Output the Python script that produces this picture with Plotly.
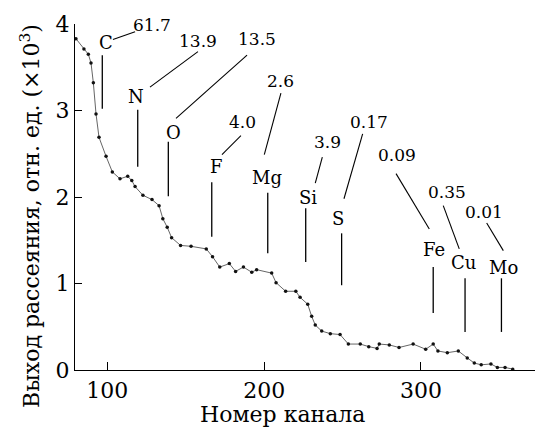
import plotly.graph_objects as go

# ---- data ----
channels = [80.0, 85.1, 87.9, 89.6, 91.1, 92.8, 94.7, 99.2, 103.2, 108.1,
            113.0, 115.6, 117.7, 122.7, 128.5, 133.0, 135.4, 138.2, 141.0, 146.7,
            153.4, 163.1, 167.1, 171.7, 177.8, 181.8, 186.8, 192.1, 195.2, 204.8,
            207.6, 213.7, 220.2, 222.9, 227.8, 230.3, 232.6, 236.7, 242.2, 248.4,
            253.7, 261.3, 266.7, 272.0, 273.4, 279.8, 286.0, 295.0, 303.0, 307.8,
            310.8, 316.8, 323.8, 329.5, 334.0, 338.4, 344.6, 348.7, 353.6, 358.5]
yield_vals = [3.83, 3.71, 3.65, 3.55, 3.32, 2.96, 2.69, 2.47, 2.29, 2.21,
              2.24, 2.19, 2.12, 2.02, 1.97, 1.90, 1.75, 1.65, 1.53, 1.44,
              1.43, 1.40, 1.31, 1.19, 1.23, 1.14, 1.19, 1.13, 1.16, 1.12,
              1.01, 0.91, 0.91, 0.84, 0.76, 0.62, 0.52, 0.45, 0.42, 0.41,
              0.30, 0.30, 0.27, 0.25, 0.30, 0.29, 0.26, 0.30, 0.24, 0.30,
              0.22, 0.20, 0.22, 0.14, 0.08, 0.06, 0.07, 0.03, 0.03, 0.01]

elements = ["C", "N", "O", "F", "Mg", "Si", "S", "Fe", "Cu", "Mo"]
concentrations = ["61.7", "13.9", "13.5", "4.0", "2.6", "3.9", "0.17", "0.09", "0.35", "0.01"]
element_channels = [96.8, 119.4, 138.9, 166.6, 202.3, 226.5, 249.4, 307.8, 328.1, 351.3]

x_ticks = [100, 200, 300]
y_ticks = [0, 1, 2, 3, 4]

x_title = "Номер канала"
y_title = "Выход рассеяния, отн. ед. (×10<sup>3</sup>)"

# ---- annotation layout (positions in axis units) ----
# label (x, y), marker line (y_top, y_bottom), leader (x0, y0, x1, y1), value text (x, y)
label_layout = [
    dict(lab=(99.2, 3.79), vl=(3.64, 3.02), ld=(103.6, 3.82, 117.7, 3.91), val=(128.6, 3.99)),
    dict(lab=(118.3, 3.16), vl=(3.01, 2.35), ld=(127.2, 3.27, 157.8, 3.68), val=(158.0, 3.80)),
    dict(lab=(141.9, 2.74), vl=(2.64, 2.01), ld=(143.8, 2.91, 189.1, 3.64), val=(195.4, 3.83)),
    dict(lab=(169.3, 2.35), vl=(2.17, 1.54), ld=(173.1, 2.49, 185.2, 2.71), val=(186.5, 2.87)),
    dict(lab=(201.8, 2.22), vl=(2.05, 1.35), ld=(200.1, 2.49, 210.7, 3.20), val=(210.7, 3.34)),
    dict(lab=(227.8, 2.00), vl=(1.87, 1.25), ld=(232.6, 2.16, 237.1, 2.46), val=(240.1, 2.64)),
    dict(lab=(247.1, 1.75), vl=(1.58, 0.98), ld=(250.9, 1.98, 262.8, 2.73), val=(266.9, 2.87)),
    dict(lab=(308.3, 1.39), vl=(1.19, 0.66), ld=(305.3, 1.63, 284.1, 2.27), val=(284.6, 2.49)),
    dict(lab=(327.4, 1.24), vl=(1.06, 0.44), ld=(324.4, 1.40, 314.2, 1.90), val=(316.5, 2.06)),
    dict(lab=(352.9, 1.19), vl=(1.06, 0.44), ld=(352.5, 1.38, 341.9, 1.70), val=(340.1, 1.83)),
]

FONT = "DejaVu Serif"

fig = go.Figure()
fig.add_trace(go.Scatter(
    x=channels, y=yield_vals, mode="lines+markers",
    line=dict(color="#666666", width=1),
    marker=dict(color="#111111", size=3.5),
    showlegend=False, hoverinfo="skip",
))

shapes = []
annotations = []
for el, conc, ch, L in zip(elements, concentrations, element_channels, label_layout):
    shapes.append(dict(type="line", xref="x", yref="y", x0=ch, x1=ch,
                       y0=L["vl"][0], y1=L["vl"][1], line=dict(color="black", width=1.3)))
    x0, y0, x1, y1 = L["ld"]
    shapes.append(dict(type="line", xref="x", yref="y", x0=x0, y0=y0, x1=x1, y1=y1,
                       line=dict(color="black", width=1.1)))
    annotations.append(dict(x=L["lab"][0], y=L["lab"][1], xref="x", yref="y", text=el,
                            showarrow=False, font=dict(family=FONT, size=18, color="black")))
    annotations.append(dict(x=L["val"][0], y=L["val"][1], xref="x", yref="y", text=conc,
                            showarrow=False, font=dict(family=FONT, size=17, color="black")))

# axis titles placed as annotations to match the reference positions
annotations.append(dict(x=0.452, y=-0.13, xref="paper", yref="paper", text=x_title,
                        showarrow=False, xanchor="center", yanchor="middle",
                        font=dict(family=FONT, size=22, color="black")))
annotations.append(dict(x=-0.098, y=0.445, xref="paper", yref="paper", text=y_title,
                        showarrow=False, textangle=-90, xanchor="center", yanchor="middle",
                        font=dict(family=FONT, size=22, color="black")))

fig.update_layout(
    width=535, height=430,
    margin=dict(l=75, r=0, t=24, b=60),
    paper_bgcolor="white", plot_bgcolor="white",
    font=dict(family=FONT, size=22, color="black"),
    shapes=shapes, annotations=annotations,
    xaxis=dict(range=[79.4, 372.7], tickvals=x_ticks, ticks="inside", ticklen=8,
               tickcolor="black", tickwidth=1.3, showline=True, linecolor="black", linewidth=1.3,
               showgrid=False, zeroline=False,
               tickfont=dict(family=FONT, size=22)),
    yaxis=dict(range=[0, 4], tickvals=y_ticks, ticks="inside", ticklen=7,
               tickcolor="black", tickwidth=1.3, showline=True, linecolor="black", linewidth=1.3,
               showgrid=False, zeroline=False,
               tickfont=dict(family=FONT, size=22)),
)

fig.write_html("out.html")
